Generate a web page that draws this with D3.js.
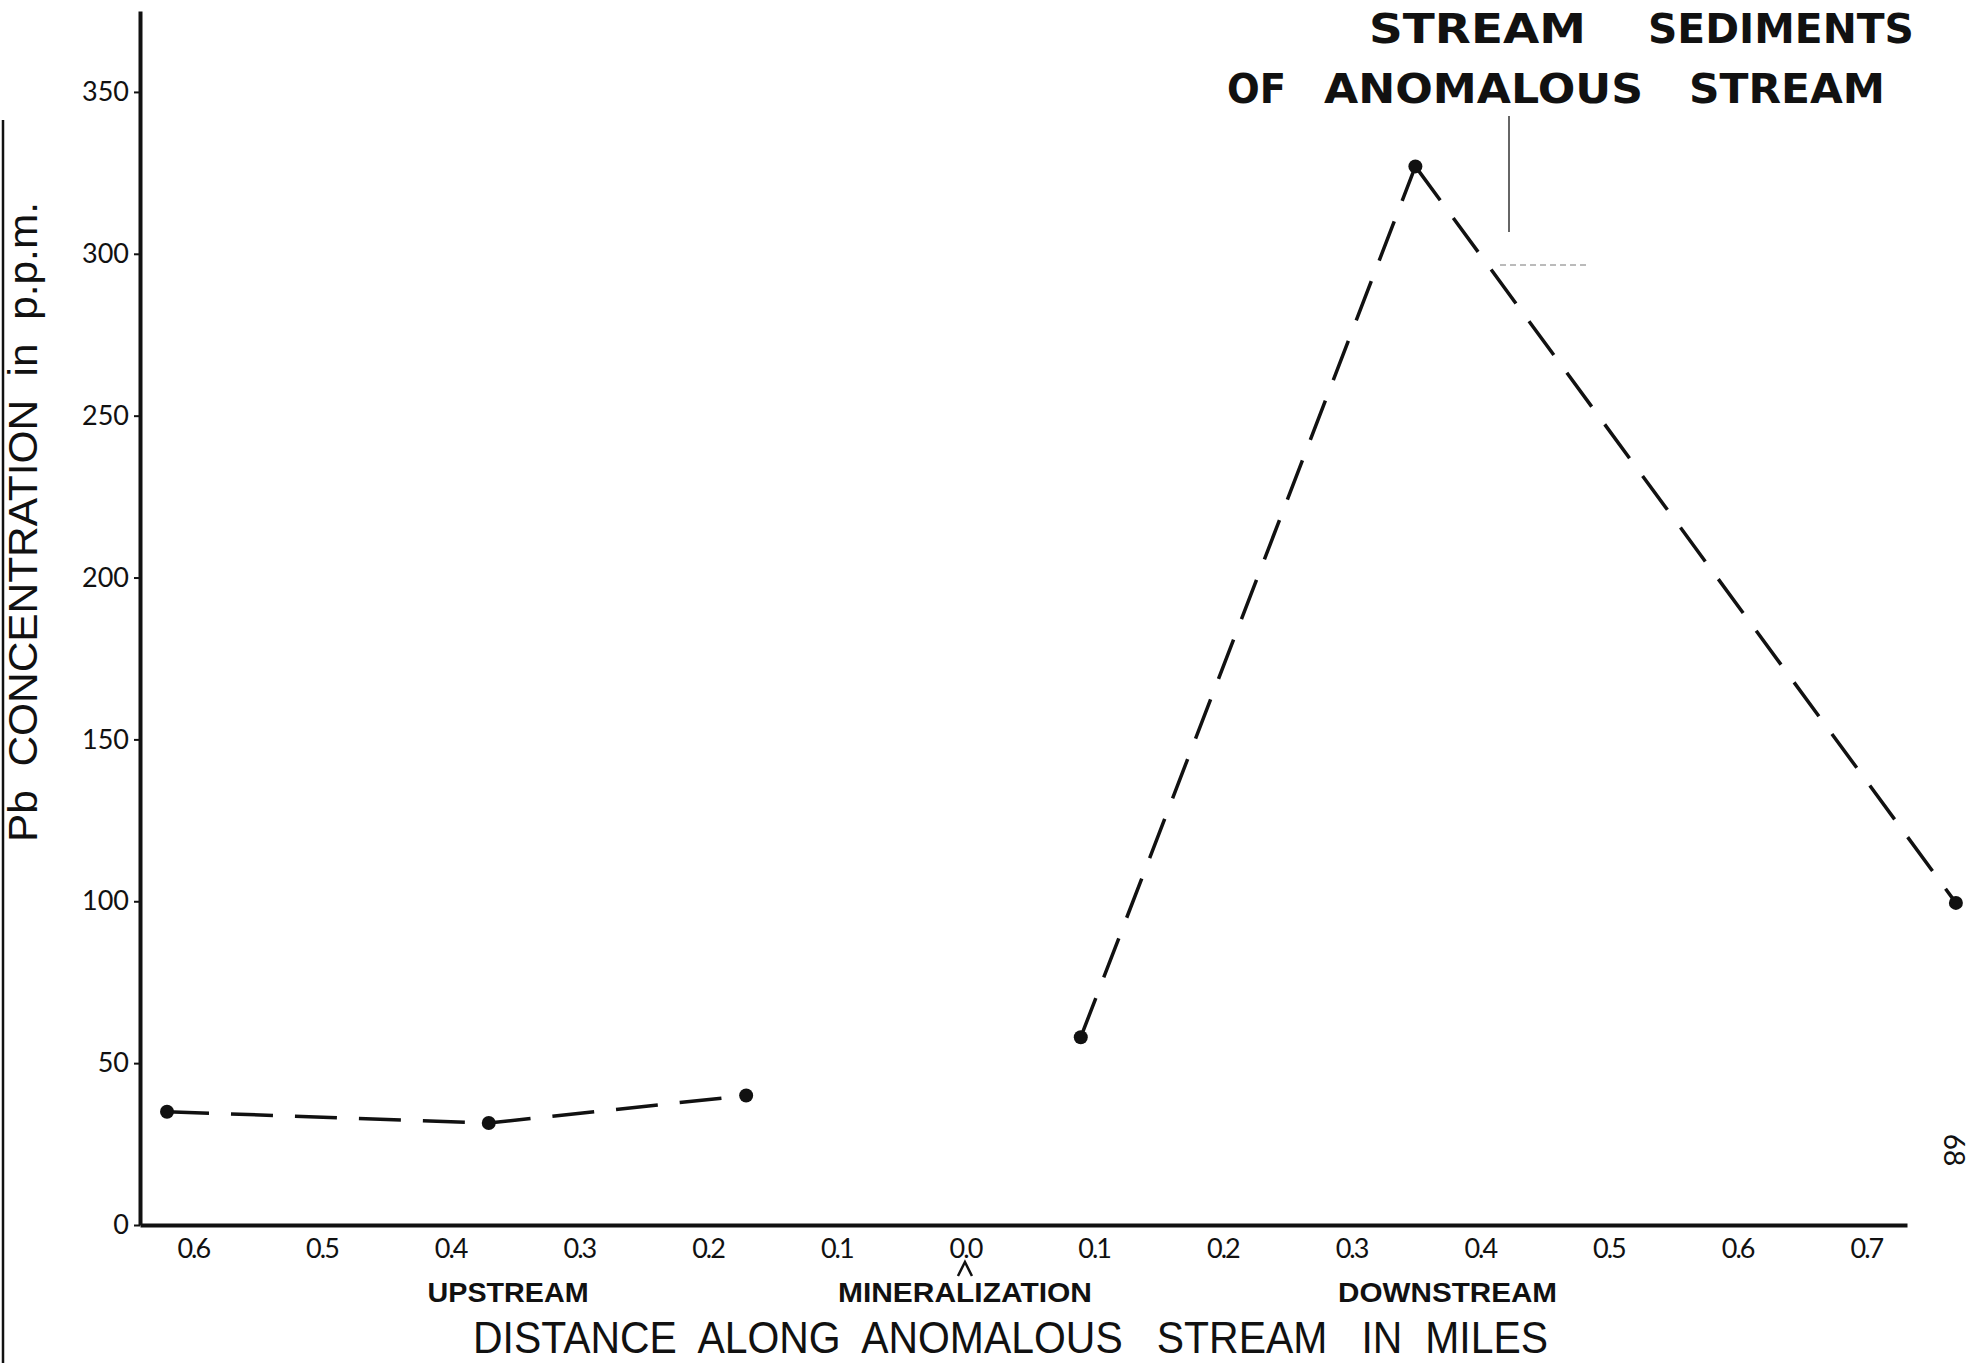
<!DOCTYPE html>
<html>
<head>
<meta charset="utf-8">
<script src="https://cdnjs.cloudflare.com/ajax/libs/d3/7.8.5/d3.min.js"></script>
<style>
  body { margin: 0; background: #fff; }
  svg { display: block; background: #fff; }
  text { fill: #111; }
</style>
</head>
<body>
<div class="chart"></div>
<script>
// distance from the mineralization in miles, upstream is negative
const upstreamDist = [ -0.62, -0.37, -0.17 ]
const upstreamPb = [ 35, 31.5, 40 ]
const downstreamDist = [ 0.09, 0.35, 0.77 ]
const downstreamPb = [ 58, 327, 99.5 ]

const xTicks = [ -0.6, -0.5, -0.4, -0.3, -0.2, -0.1, 0, 0.1, 0.2, 0.3, 0.4, 0.5, 0.6, 0.7 ]
const yTicks = [ 0, 50, 100, 150, 200, 250, 300, 350 ]

const width = 1977
const height = 1363

const svg = d3.select('.chart')
  .append('svg')
  .attr('width', width)
  .attr('height', height)

const xScale = d3.scaleLinear()
  .domain([ -0.641, 0.732 ])
  .range([ 140, 1907 ])

const yScale = d3.scaleLinear()
  .domain([ 0, 375 ])
  .range([ 1225, 11 ])

const tickFormatter = d => Math.abs(d).toFixed(1)

// axes
const xAxis = d3.axisBottom(xScale)
  .tickValues(xTicks)
  .tickFormat(tickFormatter)
  .tickSize(0)
  .tickPadding(0)

const yAxis = d3.axisLeft(yScale)
  .tickValues(yTicks)
  .tickSize(6)
  .tickSizeOuter(0)
  .tickPadding(5)

const gx = svg.append('g')
  .attr('transform', 'translate(0,' + yScale(0) + ')')
  .call(xAxis)
gx.select('.domain').attr('stroke', '#111').attr('stroke-width', 4)
gx.selectAll('text')
  .attr('dy', 0)
  .attr('y', 33)
  .style('font-family', 'Lato, "DejaVu Sans", sans-serif')
  .style('font-size', '27px')
  .style('letter-spacing', '-2px')
  .attr('fill', '#111')

const gy = svg.append('g')
  .attr('transform', 'translate(' + xScale.range()[0] + ',0)')
  .call(yAxis)
gy.select('.domain').attr('stroke', '#111').attr('stroke-width', 4)
gy.selectAll('line').attr('stroke', '#111').attr('stroke-width', 2)
gy.selectAll('text')
  .style('font-family', 'Lato, "DejaVu Sans", sans-serif')
  .style('font-size', '27px')
  .attr('fill', '#111')

// series
const line = d3.line()
  .x(d => xScale(d[0]))
  .y(d => yScale(d[1]))

const series = [
  d3.zip(upstreamDist, upstreamPb),
  d3.zip(downstreamDist, downstreamPb)
]

series.forEach(points => {
  svg.append('g')
    .selectAll('path')
    .data(d3.pairs(points))
    .enter()
    .append('path')
    .attr('d', d => line(d))
    .attr('fill', 'none')
    .attr('stroke', '#111')
    .attr('stroke-width', 3.5)
    .attr('stroke-dasharray', '42 22')

  svg.append('g')
    .selectAll('circle')
    .data(points)
    .enter()
    .append('circle')
    .attr('cx', d => xScale(d[0]))
    .attr('cy', d => yScale(d[1]))
    .attr('r', 7)
    .attr('fill', '#111')
})

// axis labels
svg.append('text')
  .attr('transform', 'translate(37,' + 522 + ') rotate(-90)')
  .attr('text-anchor', 'middle')
  .attr('textLength', 640)
  .attr('lengthAdjust', 'spacingAndGlyphs')
  .style('font-family', '"Liberation Sans", Arial, sans-serif')
  .style('font-size', '40px')
  .style('white-space', 'pre')
  .text('Pb  CONCENTRATION  in  p.p.m.')

const sideLabels = [
  { text: 'UPSTREAM', at: -0.355, len: 161 },
  { text: 'MINERALIZATION', at: 0, len: 254 },
  { text: 'DOWNSTREAM', at: 0.375, len: 219 }
]

svg.append('g')
  .selectAll('text')
  .data(sideLabels)
  .enter()
  .append('text')
  .attr('x', d => xScale(d.at) - d.len / 2)
  .attr('y', 1302)
  .attr('textLength', d => d.len)
  .attr('lengthAdjust', 'spacingAndGlyphs')
  .style('font-family', '"Liberation Sans Narrow", "Liberation Sans", sans-serif')
  .style('font-weight', 'bold')
  .style('font-size', '28px')
  .text(d => d.text)

// caret under 0.0
const cx = xScale(0)
svg.append('path')
  .attr('d', 'M' + (cx - 7) + ',1276L' + cx + ',1262L' + (cx + 7) + ',1276')
  .attr('fill', 'none')
  .attr('stroke', '#111')
  .attr('stroke-width', 2.5)

svg.append('text')
  .attr('x', 473)
  .attr('y', 1353)
  .attr('textLength', 1075)
  .attr('lengthAdjust', 'spacingAndGlyphs')
  .style('font-family', '"Liberation Sans Narrow", "Liberation Sans", sans-serif')
  .style('font-size', '45px')
  .style('white-space', 'pre')
  .text('DISTANCE  ALONG  ANOMALOUS   STREAM   IN  MILES')

// title
const titleWords = [
  { text: 'STREAM', x: 1369, y: 43, len: 217 },
  { text: 'SEDIMENTS', x: 1648, y: 43, len: 266 },
  { text: 'OF', x: 1227, y: 103, len: 59 },
  { text: 'ANOMALOUS', x: 1324, y: 103, len: 319 },
  { text: 'STREAM', x: 1689, y: 103, len: 196 }
]

svg.append('g')
  .selectAll('text')
  .data(titleWords)
  .enter()
  .append('text')
  .attr('x', d => d.x)
  .attr('y', d => d.y)
  .attr('textLength', d => d.len)
  .attr('lengthAdjust', 'spacingAndGlyphs')
  .style('font-family', '"DejaVu Sans", sans-serif')
  .style('font-weight', 'bold')
  .style('font-size', '41px')
  .text(d => d.text)

// page number
svg.append('text')
  .attr('transform', 'translate(1944,1150) rotate(90)')
  .attr('text-anchor', 'middle')
  .style('font-family', 'Lato, sans-serif')
  .style('font-size', '28px')
  .text('68')

// marks left from the scanned page
svg.append('line')
  .attr('x1', 3).attr('x2', 3)
  .attr('y1', 120).attr('y2', height)
  .attr('stroke', '#111')
  .attr('stroke-width', 2.5)

svg.append('line')
  .attr('x1', 1509).attr('x2', 1509)
  .attr('y1', 116).attr('y2', 232)
  .attr('stroke', '#333')
  .attr('stroke-width', 1.5)

svg.append('line')
  .attr('x1', 1500).attr('x2', 1586)
  .attr('y1', 265).attr('y2', 265)
  .attr('stroke', '#777')
  .attr('stroke-width', 1)
  .attr('stroke-dasharray', '6 4')
</script>
</body>
</html>
